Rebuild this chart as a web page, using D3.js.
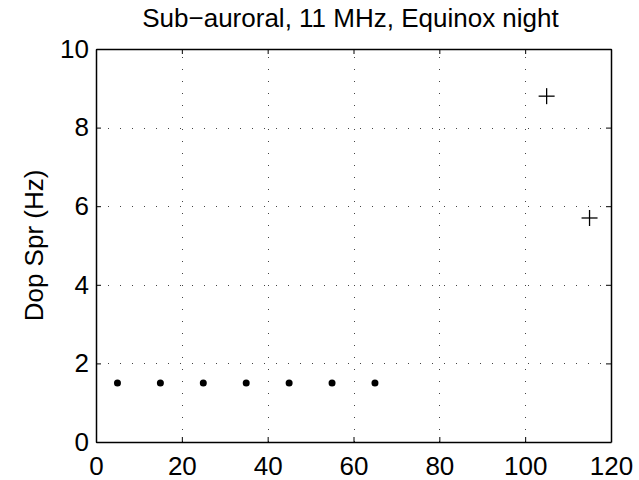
<!DOCTYPE html>
<html>
<head>
<meta charset="utf-8">
<script src="https://cdn.jsdelivr.net/npm/d3@7"></script>
<style>
  body { margin: 0; background: #fff; }
  svg text { font-family: "Liberation Sans", Arial, Helvetica, sans-serif; fill: #000; }
</style>
</head>
<body>
<svg id="chart" width="639" height="480"></svg>
<script>
// data
const dotX = [5, 15, 25, 35, 45, 55, 65];
const dotY = [1.5, 1.5, 1.5, 1.5, 1.5, 1.5, 1.5];
const plusX = [105, 115];
const plusY = [8.8, 5.7];
const xTicks = [0, 20, 40, 60, 80, 100, 120];
const yTicks = [0, 2, 4, 6, 8, 10];

const title = "Sub\u2212auroral, 11 MHz, Equinox night";
const yLabel = "Dop Spr (Hz)";

const plotLeft = 96, plotRight = 611, plotTop = 49, plotBottom = 442;
const fontSize = 26;

const svg = d3.select("#chart");

const x = d3.scaleLinear().domain([0, 120]).range([plotLeft, plotRight]);
const y = d3.scaleLinear().domain([0, 10]).range([plotBottom, plotTop]);

// grid
const grid = svg.append("g")
    .attr("stroke", "#444")
    .attr("stroke-width", 1)
    .attr("stroke-dasharray", "1,11");

grid.selectAll("line.vx")
    .data(xTicks.slice(1, -1))
    .enter().append("line")
    .attr("x1", d => Math.round(x(d)) + 0.5)
    .attr("x2", d => Math.round(x(d)) + 0.5)
    .attr("y1", plotBottom)
    .attr("y2", plotTop);

grid.selectAll("line.hy")
    .data(yTicks.slice(1, -1))
    .enter().append("line")
    .attr("y1", d => Math.round(y(d)) + 0.5)
    .attr("y2", d => Math.round(y(d)) + 0.5)
    .attr("x1", plotLeft)
    .attr("x2", plotRight);

// axes with inward ticks on all four sides
const tickLen = 5;
svg.append("g")
    .attr("transform", `translate(0,${plotBottom})`)
    .call(d3.axisBottom(x).tickValues(xTicks).tickSizeInner(-tickLen).tickSizeOuter(0).tickPadding(15))
    .call(g => g.selectAll("text").attr("font-size", fontSize));

svg.append("g")
    .attr("transform", `translate(0,${plotTop})`)
    .call(d3.axisTop(x).tickValues(xTicks).tickSizeInner(-tickLen).tickSizeOuter(0).tickFormat(""));

svg.append("g")
    .attr("transform", `translate(${plotLeft},0)`)
    .call(d3.axisLeft(y).tickValues(yTicks).tickSizeInner(-tickLen).tickSizeOuter(0).tickPadding(7))
    .call(g => g.selectAll("text").attr("font-size", fontSize));

svg.append("g")
    .attr("transform", `translate(${plotRight},0)`)
    .call(d3.axisRight(y).tickValues(yTicks).tickSizeInner(-tickLen).tickSizeOuter(0).tickFormat(""));

svg.selectAll(".domain").attr("stroke", "#000").attr("stroke-width", 1.5);
svg.selectAll(".tick line").attr("stroke", "#000").attr("stroke-width", 1);

// dots
svg.append("g")
    .selectAll("circle")
    .data(dotX.map((d, i) => [d, dotY[i]]))
    .enter().append("circle")
    .attr("cx", d => x(d[0]))
    .attr("cy", d => y(d[1]))
    .attr("r", 3.5)
    .attr("fill", "#000");

// plus markers
const plus = svg.append("g")
    .attr("stroke", "#000")
    .attr("stroke-width", 1.3)
    .selectAll("g")
    .data(plusX.map((d, i) => [d, plusY[i]]))
    .enter().append("g")
    .attr("transform", d => `translate(${x(d[0])},${y(d[1])})`);
plus.append("line").attr("x1", -8).attr("x2", 8).attr("y1", 0).attr("y2", 0);
plus.append("line").attr("x1", 0).attr("x2", 0).attr("y1", -8).attr("y2", 8);

// title
svg.append("text")
    .attr("x", (plotLeft + plotRight) / 2 - 3)
    .attr("y", 27)
    .attr("text-anchor", "middle")
    .attr("font-size", fontSize)
    .text(title);

// y label
svg.append("text")
    .attr("transform", `translate(43,${(plotTop + plotBottom) / 2}) rotate(-90)`)
    .attr("text-anchor", "middle")
    .attr("font-size", fontSize)
    .text(yLabel);
</script>
</body>
</html>
